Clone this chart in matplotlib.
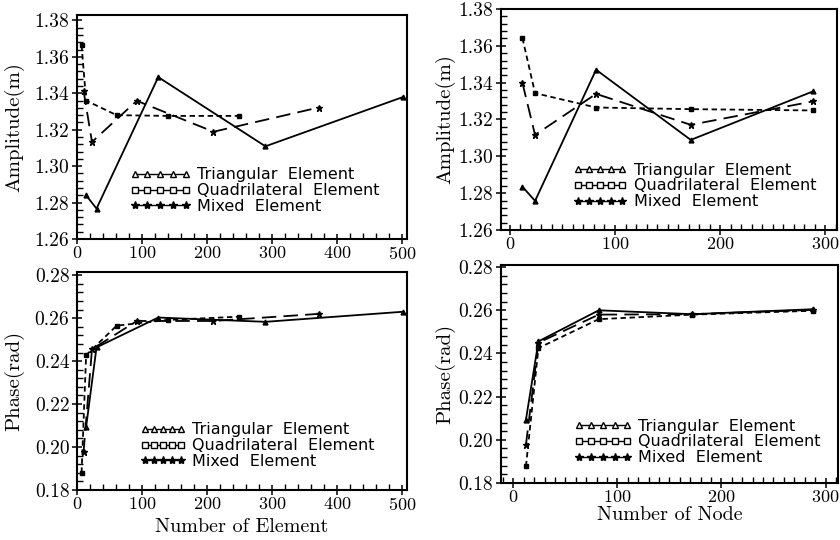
import numpy as np
import matplotlib
matplotlib.use("Agg")
import matplotlib.pyplot as plt
from matplotlib.lines import Line2D
from matplotlib.ticker import MultipleLocator, FormatStrFormatter

# ---- data
# number of element (left column)
tri_elem_x = [14, 30, 125, 290, 502]
quad_elem_x = [7, 14, 61, 140, 250]
mixed_elem_x = [10, 23, 92, 210, 372]

tri_elem_amp = [1.2840, 1.2767, 1.3489, 1.3109, 1.3380]
quad_elem_amp = [1.3665, 1.3360, 1.3280, 1.3276, 1.3276]
mixed_elem_amp = [1.3415, 1.3133, 1.3359, 1.3189, 1.3322]

tri_elem_phase = [0.2094, 0.2464, 0.2603, 0.2583, 0.2630]
quad_elem_phase = [0.1880, 0.2428, 0.2565, 0.2592, 0.2607]
mixed_elem_phase = [0.1975, 0.2455, 0.2587, 0.2587, 0.2620]

# number of node (right column)
node_x = [12, 24, 82, 172, 288]

tri_node_amp = [1.2835, 1.2758, 1.3470, 1.3089, 1.3352]
quad_node_amp = [1.3642, 1.3343, 1.3265, 1.3256, 1.3249]
mixed_node_amp = [1.3398, 1.3116, 1.3339, 1.3171, 1.3298]

tri_node_phase = [0.2093, 0.2456, 0.2600, 0.2582, 0.2605]
quad_node_phase = [0.1877, 0.2425, 0.2559, 0.2580, 0.2598]
mixed_node_phase = [0.1977, 0.2450, 0.2580, 0.2582, 0.2602]

labels = ["Triangular  Element", "Quadrilateral  Element", "Mixed  Element"]

serif = "cmr10"
plt.rcParams["axes.formatter.use_mathtext"] = True

fig = plt.figure(figsize=(8.4, 5.4), dpi=100)

# ---- axes placed to line up with the scan
ax_tl = fig.add_axes([0.0917, 0.5574, 0.3929, 0.4148])
ax_tr = fig.add_axes([0.5964, 0.5741, 0.4000, 0.4093])
ax_bl = fig.add_axes([0.0917, 0.0926, 0.3929, 0.4037])
ax_br = fig.add_axes([0.5964, 0.1056, 0.4012, 0.4037])

styles = [
    dict(ls="-", marker="^", ms=3.5),
    dict(ls=(0, (3, 2)), marker="s", ms=3),
    dict(ls=(0, (8, 4)), marker="*", ms=4.5),
]
# open markers in the legend, as in the scan
leg_fill = ["white", "white", "black"]


def draw(ax, xs, ys):
    for x, y, st in zip(xs, ys, styles):
        ax.plot(x, y, color="black", lw=1.3, mfc="black", mec="black", **st)
    handles = []
    for st, fc in zip(styles, leg_fill):
        handles.append(Line2D([], [], color="black", lw=1.0, ls="-",
                              marker=st["marker"], ms=st["ms"] + 1.5,
                              mfc=fc, mec="black", mew=1.0))
    return handles


def style_axis(ax, xlim, ylim, xminor, ylabel, xlabel, ylab_x, xlab_y):
    ax.set_xlim(*xlim)
    ax.set_ylim(*ylim)
    ax.xaxis.set_major_locator(MultipleLocator(100))
    ax.xaxis.set_minor_locator(MultipleLocator(xminor))
    ax.yaxis.set_major_locator(MultipleLocator(0.02))
    ax.yaxis.set_minor_locator(MultipleLocator(0.004))
    ax.yaxis.set_major_formatter(FormatStrFormatter("%.2f"))
    ax.tick_params(which="major", direction="inout", length=7, width=1.1,
                   labelsize=14, pad=2)
    ax.tick_params(axis="x", which="major", labelsize=13, pad=1)
    ax.tick_params(which="minor", direction="in", length=4, width=1.0)
    for lab in ax.get_xticklabels() + ax.get_yticklabels():
        lab.set_fontfamily(serif)
    for sp in ax.spines.values():
        sp.set_linewidth(1.5)
    ax.set_ylabel(ylabel, fontfamily=serif, fontsize=15)
    ax.yaxis.set_label_coords(ylab_x, 0.5)
    if xlabel:
        ax.set_xlabel(xlabel, fontfamily=serif, fontsize=14.5)
        ax.xaxis.set_label_coords(0.5, xlab_y)


def add_legend(ax, handles, x, y, hl):
    ax.legend(handles, labels, loc="upper left", bbox_to_anchor=(x, y),
              frameon=False, numpoints=5, handlelength=hl, handletextpad=0.4,
              labelspacing=0.05, borderpad=0, borderaxespad=0,
              prop={"family": "DejaVu Sans", "size": 11.5})


h = draw(ax_tl, [tri_elem_x, quad_elem_x, mixed_elem_x],
         [tri_elem_amp, quad_elem_amp, mixed_elem_amp])
style_axis(ax_tl, (0, 508), (1.26, 1.383), 20, "Amplitude(m)", None, -0.16, 0)
add_legend(ax_tl, h, 0.16, 0.32, 3.8)

h = draw(ax_tr, [node_x] * 3, [tri_node_amp, quad_node_amp, mixed_node_amp])
style_axis(ax_tr, (-8.4, 311), (1.26, 1.38), 10, "Amplitude(m)", None, -0.136, 0)
add_legend(ax_tr, h, 0.214, 0.305, 3.4)

h = draw(ax_bl, [tri_elem_x, quad_elem_x, mixed_elem_x],
         [tri_elem_phase, quad_elem_phase, mixed_elem_phase])
style_axis(ax_bl, (0, 508), (0.18, 0.2815), 20, "Phase(rad)",
           "Number of Element", -0.16, -0.128)
add_legend(ax_bl, h, 0.19, 0.31, 2.9)

h = draw(ax_br, [node_x] * 3, [tri_node_phase, quad_node_phase, mixed_node_phase])
style_axis(ax_br, (-12, 312), (0.18, 0.281), 10, "Phase(rad)",
           "Number of Node", -0.136, -0.108)
add_legend(ax_br, h, 0.217, 0.295, 3.6)

fig.savefig("out.png", dpi=100)
